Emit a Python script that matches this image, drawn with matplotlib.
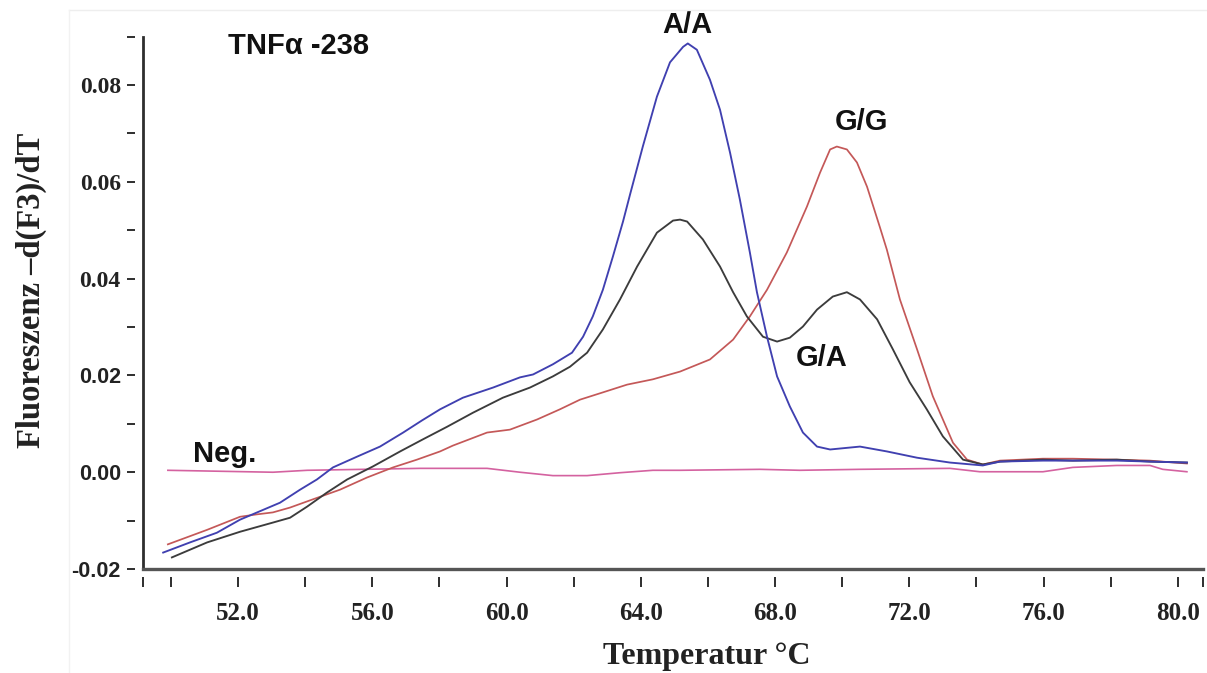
import matplotlib

matplotlib.use("Agg")
import matplotlib.pyplot as plt

plt.rcParams.update(
    {
        "font.family": "Liberation Serif",
        "axes.unicode_minus": False,
    }
)

DARK = "#2e2e2e"
BLUE = "#4040b0"
RED = "#c45858"
BLACK = "#3c3c3c"
PINK = "#d462a0"
SERIF = "Liberation Serif"
SANS = "Liberation Sans"

# melting curves, -d(F3)/dT against temperature
temp_aa = [49.77, 50.57, 51.37, 52.06, 52.57, 53.25, 53.85, 54.35, 54.83, 55.54,
           56.23, 56.92, 57.48, 58.02, 58.70, 59.60, 60.40, 60.79, 61.38, 61.95,
           62.28, 62.57, 62.87, 63.17, 63.47, 63.68, 64.06, 64.48, 64.87, 65.26,
           65.40, 65.67, 66.06, 66.36, 66.66, 66.95, 67.25, 67.46, 67.76, 68.06,
           68.44, 68.83, 69.25, 69.64, 70.53, 71.33, 72.23, 73.21, 74.19, 74.70,
           75.98, 76.87, 78.18, 79.17, 80.27]
dfdt_aa = [-0.0166, -0.0145, -0.0125, -0.0098, -0.0083, -0.0063, -0.0036, -0.0015, 0.0010, 0.0032,
           0.0053, 0.0082, 0.0107, 0.0130, 0.0154, 0.0175, 0.0196, 0.0202, 0.0223, 0.0247,
           0.0280, 0.0322, 0.0377, 0.0446, 0.0518, 0.0574, 0.0673, 0.0776, 0.0847, 0.0879,
           0.0886, 0.0873, 0.0811, 0.0749, 0.0660, 0.0564, 0.0454, 0.0372, 0.0280, 0.0198,
           0.0136, 0.0082, 0.0053, 0.0047, 0.0053, 0.0043, 0.0030, 0.0020, 0.0014, 0.0022,
           0.0024, 0.0024, 0.0024, 0.0022, 0.0020]

temp_ga = [50.03, 51.08, 52.06, 53.04, 53.55, 54.06, 54.65, 55.25, 56.02, 56.83,
           57.51, 58.23, 59.00, 59.89, 60.70, 61.38, 61.89, 62.40, 62.87, 63.38,
           63.89, 64.48, 64.96, 65.17, 65.38, 65.85, 66.36, 66.75, 67.16, 67.64,
           68.06, 68.44, 68.83, 69.25, 69.72, 70.14, 70.53, 71.04, 71.51, 72.01,
           72.52, 73.00, 73.60, 74.19, 74.70, 75.98, 76.87, 78.18, 79.17, 80.27]
dfdt_ga = [-0.0176, -0.0145, -0.0123, -0.0104, -0.0094, -0.0071, -0.0042, -0.0015, 0.0012, 0.0043,
           0.0068, 0.0094, 0.0123, 0.0154, 0.0175, 0.0198, 0.0218, 0.0247, 0.0295, 0.0357,
           0.0425, 0.0495, 0.0520, 0.0522, 0.0518, 0.0481, 0.0425, 0.0372, 0.0322, 0.0280,
           0.0270, 0.0278, 0.0301, 0.0336, 0.0363, 0.0372, 0.0357, 0.0316, 0.0254, 0.0186,
           0.0130, 0.0074, 0.0026, 0.0016, 0.0022, 0.0026, 0.0024, 0.0026, 0.0022, 0.0020]

temp_gg = [49.91, 51.08, 52.06, 52.57, 53.04, 53.55, 54.23, 55.04, 55.84, 56.62,
           57.33, 58.02, 58.40, 59.42, 60.10, 60.91, 61.59, 62.19, 62.87, 63.59,
           64.36, 65.17, 66.06, 66.75, 67.25, 67.76, 68.35, 68.95, 69.34, 69.64,
           69.84, 70.14, 70.44, 70.74, 71.12, 71.33, 71.72, 72.23, 72.70, 73.30,
           73.72, 74.19, 74.70, 75.98, 76.87, 78.18, 79.17, 80.27]
dfdt_gg = [-0.0149, -0.0119, -0.0092, -0.0087, -0.0083, -0.0073, -0.0056, -0.0036, -0.0011, 0.0010,
           0.0026, 0.0043, 0.0055, 0.0082, 0.0088, 0.0109, 0.0130, 0.0150, 0.0165, 0.0181,
           0.0192, 0.0208, 0.0233, 0.0274, 0.0322, 0.0377, 0.0454, 0.0549, 0.0619, 0.0667,
           0.0673, 0.0667, 0.0640, 0.0590, 0.0507, 0.0460, 0.0357, 0.0254, 0.0157, 0.0061,
           0.0026, 0.0016, 0.0024, 0.0028, 0.0028, 0.0026, 0.0024, 0.0018]

temp_neg = [49.91, 53.04, 54.06, 57.42, 59.42, 60.40, 61.38, 62.40, 63.38, 64.36,
            65.17, 67.55, 68.74, 70.53, 73.21, 74.10, 75.98, 76.87, 78.18, 79.17,
            79.55, 80.27]
dfdt_neg = [0.0004, 0.0000, 0.0004, 0.0008, 0.0008, 0.0000, -0.0007, -0.0007, -0.0001, 0.0004,
            0.0004, 0.0006, 0.0004, 0.0006, 0.0008, 0.0001, 0.0001, 0.0010, 0.0014, 0.0014,
            0.0006, 0.0001]

y_major = [-0.02, 0.00, 0.02, 0.04, 0.06, 0.08]
y_major_labels = ["-0.02", "0.00", "0.02", "0.04", "0.06", "0.08"]
y_minor = [-0.01, 0.01, 0.03, 0.05, 0.07, 0.09]
x_major = [52, 56, 60, 64, 68, 72, 76, 80]
x_major_labels = ["52.0", "56.0", "60.0", "64.0", "68.0", "72.0", "76.0", "80.0"]
x_minor = [50, 54, 58, 62, 66, 70, 74, 78]
X_MIN, X_MAX = 49.17, 80.75
Y_MIN, Y_MAX = -0.02, 0.09

fig = plt.figure(figsize=(12.07, 6.73), dpi=100, facecolor="white")
ax = fig.add_axes([0.1185, 0.1545, 0.8782, 0.791])

# faint outer frame of the original screenshot
fig.add_artist(plt.Line2D([69 / 1207, 1.0], [1 - 10 / 673, 1 - 10 / 673],
                          color="#eeeeee", lw=1.0, transform=fig.transFigure))
fig.add_artist(plt.Line2D([69 / 1207, 69 / 1207], [0.0, 1 - 10 / 673],
                          color="#f2f2f2", lw=1.0, transform=fig.transFigure))

ax.plot(temp_neg, dfdt_neg, color=PINK, lw=1.2, zorder=2)
ax.plot(temp_gg, dfdt_gg, color=RED, lw=1.25, zorder=3)
ax.plot(temp_ga, dfdt_ga, color=BLACK, lw=1.35, zorder=3)
ax.plot(temp_aa, dfdt_aa, color=BLUE, lw=1.35, zorder=4)

ax.set_xlim(X_MIN, X_MAX)
ax.set_ylim(Y_MIN, Y_MAX)

# ticks sit a few pixels away from the axis lines, as in the original
for side in ("left", "bottom"):
    ax.spines[side].set_position(("outward", 6))
    ax.spines[side].set_color("none")
for side in ("top", "right"):
    ax.spines[side].set_visible(False)
ax.plot([0, 0], [0, 1], color=DARK, lw=2.0, transform=ax.transAxes, clip_on=False, zorder=5)
ax.plot([0, 1], [0, 0], color="#555555", lw=2.4, transform=ax.transAxes, clip_on=False, zorder=5)

ax.set_yticks(y_major, y_major_labels)
ax.set_yticks(y_minor, minor=True)
ax.set_xticks(x_major, x_major_labels)
ax.set_xticks(x_minor + [X_MIN, X_MAX], minor=True)
ax.tick_params(axis="both", which="both", direction="out", color=DARK, width=1.4)
ax.tick_params(axis="y", which="both", length=6, pad=4)
ax.tick_params(axis="x", which="both", length=7, pad=11)

for tick in ax.xaxis.get_major_ticks():
    tick.label1.set_fontfamily(SERIF)
    tick.label1.set_fontweight("bold")
    tick.label1.set_fontsize(18)
    tick.label1.set_color("#222222")
for tick, val in zip(ax.yaxis.get_major_ticks(), y_major):
    tick.label1.set_fontweight("bold")
    tick.label1.set_color("#222222")
    if val >= 0.04:
        tick.label1.set_fontfamily(SERIF)
        tick.label1.set_fontsize(17)
    else:
        tick.label1.set_fontfamily(SANS)
        tick.label1.set_fontsize(15.5)

fig.text(707 / 1207, 1 - 664 / 673, "Temperatur °C", ha="center", va="baseline",
         fontsize=23, fontweight="bold", family=SERIF, color="#222222")
fig.text(31 / 1207, 1 - 290 / 673, "Fluoreszenz \u2013d(F3)/dT", ha="center", va="center",
         rotation=90, fontsize=23.5, fontweight="bold", family=SERIF, color="#222222")

label_kw = dict(fontsize=21, fontweight="bold", family=SANS, color="#111111",
                clip_on=False, zorder=6)
ax.text(51.69, 0.0864, "TNF\u03b1 -238", ha="left", va="baseline", **label_kw)
ax.text(65.40, 0.0908, "A/A", ha="center", va="baseline", **label_kw)
ax.text(70.56, 0.0708, "G/G", ha="center", va="baseline", **label_kw)
ax.text(69.40, 0.0219, "G/A", ha="center", va="baseline", **label_kw)
ax.text(50.66, 0.0021, "Neg.", ha="left", va="baseline", **label_kw)

fig.savefig("out.png", dpi=100, facecolor="white")
